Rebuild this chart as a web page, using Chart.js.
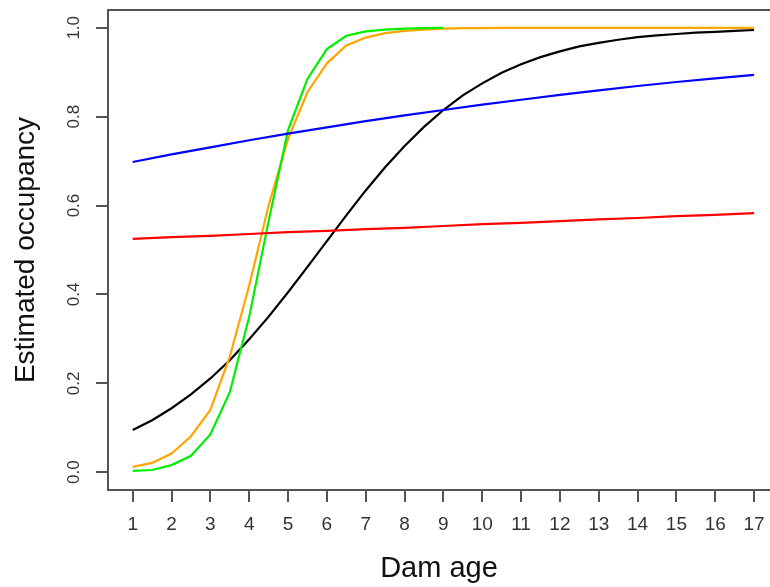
<!DOCTYPE html>
<html>
<head>
<meta charset="utf-8">
<script src="https://cdn.jsdelivr.net/npm/chart.js@4/dist/chart.umd.min.js"></script>
<style>
  html, body { margin: 0; padding: 0; background: #ffffff; }
  #wrap { width: 770px; height: 587px; position: relative; }
</style>
</head>
<body>
<div id="wrap"><canvas id="c"></canvas></div>
<script>
// ---- data ----
const xHalf = [1,1.5,2,2.5,3,3.5,4,4.5,5,5.5,6,6.5,7,7.5,8,8.5,9,9.5,10,10.5,11,11.5,12,12.5,13,13.5,14,14.5,15,15.5,16,16.5,17];
const xGreen = [1,1.5,2,2.5,3,3.5,4,4.5,5,5.5,6,6.5,7,7.5,8,8.5,9];
const xInt = [1,2,3,4,5,6,7,8,9,10,11,12,13,14,15,16,17];

const blackSeries = [0.095,0.117,0.144,0.175,0.211,0.252,0.299,0.350,0.405,0.462,0.520,0.578,0.634,0.686,0.734,0.777,0.815,0.848,0.875,0.899,0.918,0.934,0.947,0.958,0.966,0.973,0.979,0.983,0.986,0.989,0.991,0.993,0.995];
const orangeSeries = [0.012,0.021,0.042,0.081,0.14,0.26,0.42,0.60,0.75,0.855,0.92,0.96,0.978,0.988,0.993,0.996,0.998,0.999,0.999,1.0,1.0,1.0,1.0,1.0,1.0,1.0,1.0,1.0,1.0,1.0,1.0,1.0,1.0];
const greenSeries = [0.003,0.005,0.016,0.037,0.085,0.18,0.35,0.565,0.77,0.885,0.952,0.982,0.992,0.996,0.998,0.999,1.0];
const blueSeries = [0.698,0.715,0.731,0.747,0.762,0.776,0.790,0.803,0.815,0.827,0.838,0.849,0.859,0.869,0.878,0.886,0.894];
const redSeries = [0.525,0.529,0.532,0.536,0.540,0.543,0.547,0.550,0.554,0.558,0.561,0.565,0.569,0.572,0.576,0.579,0.583];

const xTicks = [1,2,3,4,5,6,7,8,9,10,11,12,13,14,15,16,17];
const yTicks = [0,0.2,0.4,0.6,0.8,1.0];
const yTickLabels = ["0.0","0.2","0.4","0.6","0.8","1.0"];

const xTitle = "Dam age";
const yTitle = "Estimated occupancy";

function pts(xs, ys) { return xs.map((x, i) => ({ x: x, y: ys[i] })); }

const FONT = "'Liberation Sans', Arial, sans-serif";
const AXIS_COLOR = '#555555';

// top border of the plot box + rotated y tick labels
const boxAndLabels = {
  id: 'boxAndLabels',
  afterDraw(chart) {
    const ctx = chart.ctx;
    const a = chart.chartArea;
    ctx.save();
    ctx.strokeStyle = AXIS_COLOR;
    ctx.lineWidth = 2;
    ctx.beginPath();
    ctx.moveTo(a.left - 1, a.top);
    ctx.lineTo(a.right, a.top);
    ctx.stroke();
    const ys = chart.scales.y;
    ctx.fillStyle = '#333333';
    ctx.font = '17px ' + FONT;
    ctx.textAlign = 'center';
    ctx.textBaseline = 'middle';
    yTicks.forEach((v, i) => {
      const py = ys.getPixelForValue(v);
      ctx.save();
      ctx.translate(74, py);
      ctx.rotate(-Math.PI / 2);
      ctx.fillText(yTickLabels[i], 0, 0);
      ctx.restore();
    });
    ctx.restore();
  }
};

const ds = (label, xs, ys, color) => ({
  label: label,
  data: pts(xs, ys),
  borderColor: color,
  backgroundColor: color,
  borderWidth: 2.2,
  pointRadius: 0,
  tension: 0,
  fill: false
});

new Chart(document.getElementById('c'), {
  type: 'line',
  data: {
    datasets: [
      ds('red', xInt, redSeries, '#ff0000'),
      ds('blue', xInt, blueSeries, '#0000ff'),
      ds('green', xGreen, greenSeries, '#00ee00'),
      ds('orange', xHalf, orangeSeries, '#ffa500'),
      ds('black', xHalf, blackSeries, '#000000')
    ]
  },
  options: {
    responsive: true,
    maintainAspectRatio: false,
    animation: false,
    layout: { padding: { top: 10, left: 0, right: 0, bottom: 0 } },
    plugins: { legend: { display: false }, tooltip: { enabled: false } },
    scales: {
      x: {
        type: 'linear',
        min: 0.364,
        max: 17.41,
        afterBuildTicks: (s) => { s.ticks = xTicks.map(v => ({ value: v })); },
        afterFit: (s) => { s.height = 97; s.paddingRight = 0; s.paddingLeft = 0; },
        ticks: {
          color: '#333333',
          font: { family: FONT, size: 19 },
          padding: 11,
          maxRotation: 0,
          minRotation: 0,
          autoSkip: false,
          callback: (v) => String(v)
        },
        grid: { display: true, drawOnChartArea: false, drawTicks: true, tickLength: 12, color: AXIS_COLOR, lineWidth: 2 },
        border: { display: true, color: AXIS_COLOR, width: 2 },
        title: { display: true, text: xTitle, color: '#111111', font: { family: FONT, size: 29 }, padding: { top: 0, bottom: 1 } }
      },
      y: {
        type: 'linear',
        min: -0.04,
        max: 1.04,
        afterBuildTicks: (s) => { s.ticks = yTicks.map(v => ({ value: v })); },
        afterFit: (s) => { s.width = 108; s.paddingTop = 0; s.paddingBottom = 0; },
        ticks: { display: false },
        grid: { display: true, drawOnChartArea: false, drawTicks: true, tickLength: 12, color: AXIS_COLOR, lineWidth: 2 },
        border: { display: true, color: AXIS_COLOR, width: 2 },
        title: { display: true, text: yTitle, color: '#111111', font: { family: FONT, size: 28 }, padding: { top: 9, bottom: 0 } }
      }
    }
  },
  plugins: [boxAndLabels]
});
</script>
</body>
</html>
